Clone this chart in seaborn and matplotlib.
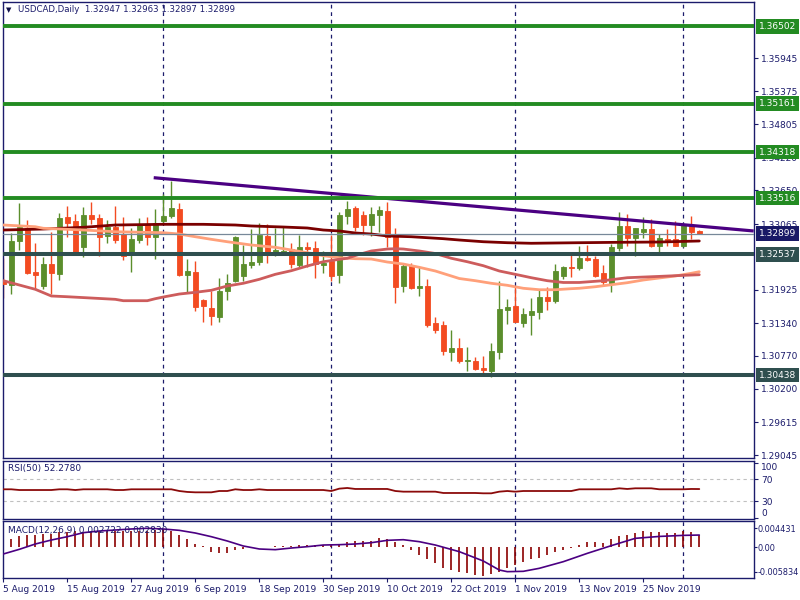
import numpy as np
import pandas as pd
import matplotlib
matplotlib.use("Agg")
import matplotlib.pyplot as plt
import matplotlib.transforms as mtransforms
import seaborn as sns

# ---------------- data ----------------
start_date = "2019-08-05"
end_date = "2019-12-04"

opens = [1.32079, 1.32010, 1.32775, 1.32990, 1.32230, 1.31987, 1.32369, 1.32201, 1.33187, 1.33118,
         1.32671, 1.33222, 1.33170, 1.32862, 1.33013, 1.32891, 1.32532, 1.32793, 1.33065, 1.32845,
         1.33118, 1.33205, 1.33326, 1.32184, 1.32230, 1.31743, 1.31604, 1.31453, 1.31905, 1.32079,
         1.32166, 1.32358, 1.32410, 1.32857, 1.32584, 1.32567, 1.32630, 1.32358, 1.32665, 1.32648,
         1.32358, 1.32427, 1.32184, 1.33205, 1.33344, 1.33222, 1.33048, 1.33222, 1.33292, 1.32891,
         1.31992, 1.32340, 1.31958, 1.31987, 1.31343, 1.31308, 1.30844, 1.30908, 1.30682, 1.30682,
         1.30560, 1.30508, 1.30844, 1.31575, 1.31639, 1.31349, 1.31488, 1.31540, 1.31795, 1.31731,
         1.32166, 1.32317, 1.32300, 1.32474, 1.32456, 1.32213, 1.32021, 1.32648, 1.33031, 1.32822,
         1.32926, 1.32978, 1.32683, 1.32804, 1.32804, 1.32683, 1.33031, 1.32947]
highs = [1.32468, 1.32903, 1.33431, 1.33135, 1.32735, 1.32485, 1.32926, 1.33257, 1.33379, 1.33239,
         1.33361, 1.33448, 1.33239, 1.33135, 1.33379, 1.33187, 1.32996, 1.33170, 1.33187, 1.33326,
         1.33587, 1.33814, 1.33431, 1.32456, 1.32422, 1.31760, 1.31900, 1.32126, 1.32195, 1.32857,
         1.32700, 1.32978, 1.33083, 1.33065, 1.32996, 1.33031, 1.32735, 1.32874, 1.32752, 1.32770,
         1.32596, 1.32874, 1.33274, 1.33466, 1.33379, 1.33292, 1.33361, 1.33379, 1.33448, 1.32996,
         1.32387, 1.32387, 1.32317, 1.32108, 1.31447, 1.31378, 1.31221, 1.31082, 1.30925, 1.30751,
         1.30769, 1.30995, 1.32074, 1.31760, 1.31963, 1.31604, 1.31778, 1.31917, 1.31963, 1.32369,
         1.32335, 1.32561, 1.32683, 1.32700, 1.32509, 1.32352, 1.32717, 1.33274, 1.33239, 1.32996,
         1.33187, 1.33152, 1.32891, 1.32978, 1.33118, 1.33083, 1.33205, 1.32963]
lows = [1.31772, 1.31847, 1.32613, 1.32195, 1.31929, 1.31940, 1.31847, 1.32097, 1.32845, 1.32584,
        1.32491, 1.33065, 1.32514, 1.32735, 1.32741, 1.32445, 1.32236, 1.32741, 1.32700, 1.32462,
        1.33089, 1.33170, 1.32161, 1.31865, 1.31557, 1.31366, 1.31314, 1.31366, 1.31749, 1.32062,
        1.32079, 1.32306, 1.32358, 1.32393, 1.32514, 1.32532, 1.32306, 1.32323, 1.32323, 1.32132,
        1.32219, 1.32079, 1.32045, 1.33065, 1.32949, 1.32874, 1.32862, 1.32932, 1.32671, 1.31697,
        1.31888, 1.31940, 1.31818, 1.31279, 1.31175, 1.30792, 1.30687, 1.30653, 1.30513, 1.30531,
        1.30473, 1.30409, 1.30722, 1.31331, 1.31366, 1.31279, 1.31140, 1.31418, 1.31575, 1.31697,
        1.32114, 1.32149, 1.32265, 1.32422, 1.32143, 1.31987, 1.31882, 1.32596, 1.32683, 1.32509,
        1.32822, 1.32665, 1.32578, 1.32683, 1.32683, 1.32665, 1.32804, 1.32897]
closes = [1.32021, 1.32770, 1.33013, 1.32219, 1.32184, 1.32369, 1.32219, 1.33170, 1.33089, 1.32584,
          1.33222, 1.33152, 1.32845, 1.33013, 1.32793, 1.32514, 1.32804, 1.33065, 1.32845, 1.33083,
          1.33205, 1.33344, 1.32178, 1.32248, 1.31627, 1.31644, 1.31470, 1.31900, 1.32039, 1.32839,
          1.32369, 1.32404, 1.32874, 1.32549, 1.32613, 1.32596, 1.32375, 1.32665, 1.32630, 1.32375,
          1.32393, 1.32166, 1.33222, 1.33326, 1.33019, 1.33048, 1.33239, 1.33309, 1.32845, 1.31975,
          1.32340, 1.31958, 1.31987, 1.31314, 1.31227, 1.30861, 1.30908, 1.30687, 1.30705, 1.30548,
          1.30525, 1.30856, 1.31586, 1.31621, 1.31366, 1.31499, 1.31552, 1.31795, 1.31726, 1.32248,
          1.32317, 1.32300, 1.32474, 1.32439, 1.32161, 1.32056, 1.32665, 1.33031, 1.32822, 1.32996,
          1.32978, 1.32683, 1.32822, 1.32787, 1.32683, 1.33065, 1.32926, 1.32899]

# moving averages (sampled at bar indices)
ma_dark_idx = [0, 5, 10, 14, 20, 25, 29, 31, 35, 38, 40, 42, 44, 46, 48, 51, 53, 55, 57, 60, 63, 66, 69, 72, 77, 82, 87]
ma_dark = [1.32961, 1.32978, 1.33008, 1.33048, 1.33060, 1.33060, 1.33048, 1.33031, 1.33013, 1.32996,
           1.32961, 1.32944, 1.32909, 1.32891, 1.32857, 1.32844, 1.32827, 1.32810, 1.32787, 1.32757,
           1.32740, 1.32730, 1.32735, 1.32740, 1.32747, 1.32752, 1.32770]
ma_salmon_idx = [0, 4, 5, 10, 14, 20, 22, 24, 26, 28, 31, 34, 36, 38, 40, 42, 44, 46, 48, 50,
                 52, 54, 56, 57, 59, 61, 63, 65, 67, 69, 71, 72, 74, 76, 78, 80, 82, 84, 86, 87]
ma_salmon = [1.33048, 1.33018, 1.32991, 1.32961, 1.32931, 1.32914, 1.32891, 1.32844, 1.32799, 1.32757,
             1.32700, 1.32660, 1.32613, 1.32566, 1.32514, 1.32479, 1.32462, 1.32456, 1.32404, 1.32369,
             1.32312, 1.32248, 1.32161, 1.32117, 1.32079, 1.32034, 1.31999, 1.31947, 1.31922, 1.31922,
             1.31940, 1.31947, 1.31974, 1.32009, 1.32044, 1.32091, 1.32126, 1.32161, 1.32208, 1.32235]
ma_red_idx = [0, 2, 4, 6, 8, 14, 15, 18, 19, 20, 22, 24, 26, 28, 30, 32, 34, 36, 38, 40, 42, 43,
              44, 46, 48, 49, 50, 52, 54, 56, 58, 60, 62, 64, 66, 68, 70, 72, 75, 78, 81, 84, 87]
ma_red = [1.32079, 1.32004, 1.31929, 1.31813, 1.31800, 1.31755, 1.31731, 1.31731, 1.31766, 1.31795,
          1.31847, 1.31877, 1.31912, 1.31987, 1.32034, 1.32103, 1.32190, 1.32253, 1.32335, 1.32409,
          1.32451, 1.32469, 1.32517, 1.32596, 1.32630, 1.32636, 1.32630, 1.32596, 1.32552, 1.32469,
          1.32409, 1.32340, 1.32248, 1.32190, 1.32131, 1.32079, 1.32048, 1.32048, 1.32079, 1.32131,
          1.32148, 1.32166, 1.32183]

trend_idx = [18.8, 93.8]
trend_px = [1.33871, 1.32944]

green_levels = [1.36502, 1.35161, 1.34318, 1.33516]
slate_levels = [1.32537, 1.30438]
last_price = 1.32899
price_ticks = [1.35945, 1.35375, 1.34805, 1.34220, 1.33650, 1.33065,
               1.31925, 1.31340, 1.30770, 1.30200, 1.29615, 1.29045]

rsi50 = [51.8, 51.8, 50.5, 50.5, 50.5, 50.5, 50.5, 51.8, 51.8, 50.5,
         51.8, 51.8, 51.8, 51.8, 50.5, 50.5, 51.8, 51.8, 51.8, 51.8,
         51.8, 51.8, 48.7, 47.0, 46.3, 46.3, 46.3, 48.7, 48.7, 51.8,
         50.5, 50.5, 51.8, 50.5, 50.5, 50.5, 50.5, 50.5, 50.5, 50.5,
         50.5, 48.7, 53.0, 54.2, 52.4, 52.4, 52.4, 52.4, 52.4, 48.7,
         47.5, 47.5, 47.5, 47.5, 47.5, 45.1, 45.1, 45.1, 45.1, 45.1,
         44.5, 44.5, 47.5, 48.7, 47.5, 48.7, 48.7, 48.7, 48.7, 48.7,
         48.7, 48.7, 51.8, 51.8, 51.8, 51.8, 51.8, 53.6, 52.4, 53.6,
         53.6, 53.6, 51.8, 51.8, 51.8, 51.8, 52.4, 52.278]
rsi_levels = [70, 30]
rsi_ticks = [100, 70, 30, 0]

macd_hist = [0.00079, 0.00189, 0.00260, 0.00284, 0.00284, 0.00307, 0.00307, 0.00355, 0.00355, 0.00378,
             0.00355, 0.00378, 0.00378, 0.00378, 0.00378, 0.00378, 0.00378, 0.00378, 0.00378, 0.00402,
             0.00426, 0.00378, 0.00284, 0.00189, 0.00071, 0.00024, -0.00118, -0.00142, -0.00142, -0.00071,
             -0.00047, -0.00032, 0.00005, 0.00005, 0.00024, 0.00024, 0.00024, 0.00047, 0.00047, 0.00047,
             0.00047, 0.00047, 0.00071, 0.00126, 0.00142, 0.00142, 0.00142, 0.00221, 0.00189, 0.00126,
             0.00047, -0.00071, -0.00189, -0.00284, -0.00386, -0.00489, -0.00544, -0.00583, -0.00623, -0.00662,
             -0.00678, -0.00646, -0.00583, -0.00504, -0.00426, -0.00347, -0.00284, -0.00252, -0.00189, -0.00110,
             -0.00071, -0.00016, 0.00047, 0.00110, 0.00110, 0.00087, 0.00189, 0.00268, 0.00284, 0.00323,
             0.00378, 0.00347, 0.00347, 0.00323, 0.00323, 0.00378, 0.00362, 0.002722]
macd_sig_idx = [0, 2, 4, 6, 8, 10, 12, 14, 16, 18, 20, 22, 24, 26, 28, 30, 32, 34, 36, 38, 40,
                42, 44, 46, 48, 50, 52, 54, 57, 60, 62, 63, 65, 67, 70, 73, 76, 79, 82, 85, 87]
macd_sig = [-0.00165, -0.00055, 0.00071, 0.00165, 0.00244, 0.00339, 0.00378, 0.00402, 0.00426, 0.00443,
            0.00426, 0.00394, 0.00331, 0.00244, 0.00142, 0.00024, -0.00047, -0.00063, -0.00024, 0.00008,
            0.00047, 0.00055, 0.00071, 0.00102, 0.00158, 0.00173, 0.00126, 0.00047, -0.00110, -0.00331,
            -0.00544, -0.00583, -0.00575, -0.00504, -0.00347, -0.00150, 0.00032, 0.00205, 0.00250, 0.00275,
            0.00283]
macd_ticks = [0.004431, 0.0, -0.005834]
macd_tick_labels = ["0.004431", "0.00", "-0.005834"]

title_text = "USDCAD,Daily  1.32947 1.32963 1.32897 1.32899"
rsi_label = "RSI(50) 52.2780"
macd_label = "MACD(12,26,9) 0.002722 0.002830"

# ---------------- style ----------------
sns.set_style("white")
plt.rcParams['font.family'] = ['DejaVu Sans']
plt.rcParams['axes.unicode_minus'] = False

NAVY = "#1b1b6b"
BULL = "#5b8e2c"
BEAR = "#f34b21"
GREEN = "#238b22"
SLATE = "#2f4f4f"
INDIGO = "#4b0082"
FS = 6.5

dates = pd.bdate_range(start_date, end_date)
x = np.arange(len(opens))
o, h, l, c = (np.array(v) for v in (opens, highs, lows, closes))

W, H = 800.0, 600.0
def rect(x0, y0, x1, y1):
    return [x0 / W, 1 - y1 / H, (x1 - x0) / W, (y1 - y0) / H]

fig = plt.figure(figsize=(8, 6), dpi=100)
ax = fig.add_axes(rect(3, 2, 754, 458.3))
ax_rsi = fig.add_axes(rect(3, 460.7, 754, 519), sharex=ax)
ax_macd = fig.add_axes(rect(3, 521, 754, 578.3), sharex=ax)

# month separators
month = np.array(dates.month)
seps = np.where(np.diff(month) != 0)[0] + 1
for a in (ax, ax_rsi, ax_macd):
    for s in seps:
        a.axvline(s, color=NAVY, lw=0.9, ls=(0, (3, 3)), zorder=1)

# ---------------- main panel ----------------
up = c >= o
cols = np.where(up, BULL, BEAR)
ax.vlines(x, l, h, colors=cols, lw=1.0, zorder=2)
ax.bar(x, np.abs(c - o), bottom=np.minimum(o, c), width=0.62, color=cols,
       edgecolor=cols, linewidth=0.6, zorder=3)

sns.lineplot(x=ma_dark_idx, y=ma_dark, ax=ax, color="#7a0000", linewidth=2.0, zorder=4)
sns.lineplot(x=ma_salmon_idx, y=ma_salmon, ax=ax, color="#ffa07a", linewidth=2.0, zorder=4)
sns.lineplot(x=ma_red_idx, y=ma_red, ax=ax, color="#cd5c5c", linewidth=2.0, zorder=4)
ax.plot(trend_idx, trend_px, color=INDIGO, lw=2.3, zorder=4.2, solid_capstyle='butt')

ax.axhline(last_price, color="#778899", lw=0.9, zorder=4.5)
for lv in green_levels:
    ax.axhline(lv, color=GREEN, lw=2.8, zorder=5)
for lv in slate_levels:
    ax.axhline(lv, color=SLATE, lw=2.9, zorder=5)

blend = mtransforms.blended_transform_factory(ax.transAxes, ax.transData)
def tag(val, fc):
    ax.text(1.0065, val, f"{val:.5f}", transform=blend, color="white", fontsize=FS,
            ha="left", va="center", clip_on=False, zorder=10,
            bbox=dict(boxstyle="square,pad=0.3", fc=fc, ec="none"))
for lv in green_levels:
    tag(lv, GREEN)
for lv in slate_levels:
    tag(lv, SLATE)
tag(last_price, "#191966")

ax.set_xlim(-0.04, 93.84)
ax.set_ylim(1.28989, 1.36928)
ax.set_yticks(price_ticks)
ax.set_yticklabels([f"{t:.5f}" for t in price_ticks])

# ---------------- RSI ----------------
for lv in rsi_levels:
    ax_rsi.axhline(lv, color="#c0c0c0", lw=0.8, ls=(0, (3, 3)), zorder=1)
sns.lineplot(x=x, y=rsi50, ax=ax_rsi, color="#8b0a0a", linewidth=1.3, zorder=3)
ax_rsi.set_ylim(-2.2, 103.8)
ax_rsi.set_yticks(rsi_ticks)
ax_rsi.set_yticklabels([str(t) for t in rsi_ticks])
ax_rsi.text(0.006, 0.86, rsi_label, transform=ax_rsi.transAxes, fontsize=FS,
            color=NAVY, ha="left", va="center")

# ---------------- MACD ----------------
ax_macd.vlines(x, 0, macd_hist, colors="#8b0000", lw=1.2, zorder=2)
sns.lineplot(x=macd_sig_idx, y=macd_sig, ax=ax_macd, color=INDIGO, linewidth=1.2, zorder=3)
ax_macd.set_ylim(-0.0074, 0.00615)
ax_macd.set_yticks(macd_ticks)
ax_macd.set_yticklabels(macd_tick_labels)
ax_macd.text(0.006, 0.84, macd_label, transform=ax_macd.transAxes, fontsize=FS,
             color=NAVY, ha="left", va="center")

tick_idx = np.arange(0, len(dates), 8)
ax_macd.set_xticks(tick_idx)
ax_macd.set_xticklabels([f"{dates[i].day} {dates[i]:%b %Y}" for i in tick_idx])
off = mtransforms.ScaledTranslation(1.5 / 72, 0, fig.dpi_scale_trans)
for lab in ax_macd.get_xticklabels():
    lab.set_ha("left")
    lab.set_transform(lab.get_transform() + off)

# ---------------- common axis styling ----------------
for a in (ax, ax_rsi, ax_macd):
    a.set_xlabel("")
    a.set_ylabel("")
    a.set_facecolor("white")
    for sp in a.spines.values():
        sp.set_color(NAVY)
        sp.set_linewidth(1.0)
        sp.set_visible(True)
    a.yaxis.tick_right()
    a.tick_params(axis="y", which="both", direction="out", length=3, width=0.8,
                  color=NAVY, labelsize=FS, labelcolor=NAVY, pad=2, left=False, right=True)
    a.grid(False)
ax_macd.tick_params(axis="y", length=2, pad=0.6, labelsize=5.9)
for a in (ax, ax_rsi):
    a.tick_params(axis="x", bottom=False, labelbottom=False)
ax_macd.tick_params(axis="x", direction="out", length=3, width=0.8, color=NAVY,
                    labelsize=FS, labelcolor=NAVY, pad=2, bottom=True)

rl = ax_rsi.get_yticklabels()
rl[0].set_va("top")
rl[-1].set_va("bottom")

# title
fig.text(6 / W, 1 - 10 / H, "\u25BC", fontsize=5, color="#10104a", ha="left", va="center")
fig.text(18 / W, 1 - 10 / H, title_text, fontsize=6.2, color=NAVY, ha="left", va="center")

fig.savefig("out.png", dpi=100, facecolor="white")
